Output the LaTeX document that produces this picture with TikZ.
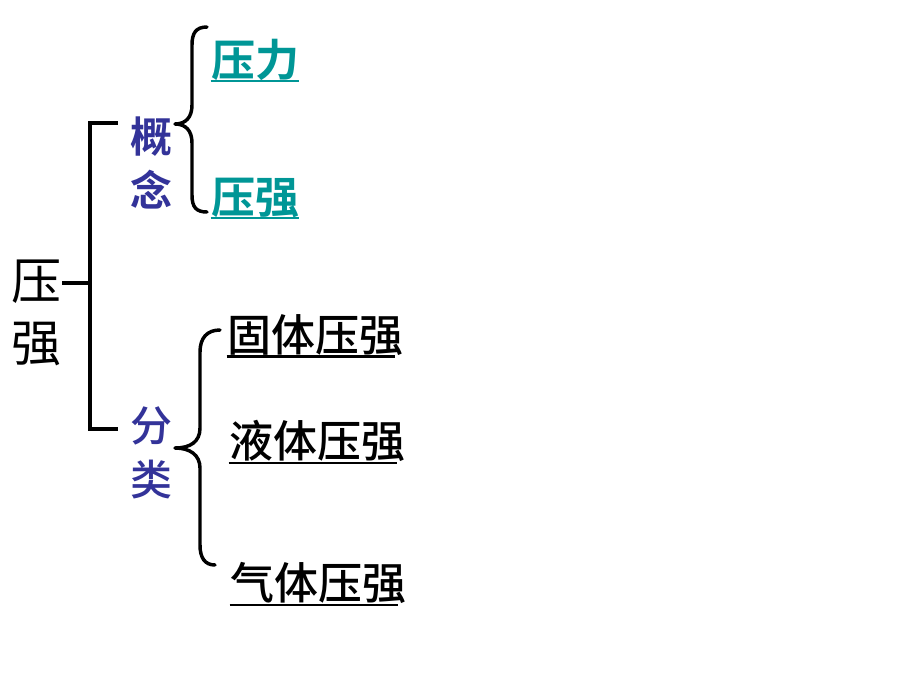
\documentclass[tikz,border=0pt]{standalone}
\usepackage{fontspec}
\newfontfamily\cjk{Noto Sans CJK SC}[BoldFont={Noto Sans CJK SC Bold}]
\newfontfamily\cjkmed{Noto Sans CJK SC Medium}
\usetikzlibrary{calc}
\definecolor{groupblue}{RGB}{51,51,153}
\definecolor{termteal}{RGB}{0,150,150}
\tikzset{every node/.style={inner sep=0pt, font=\cjk},
  brace/.style={line width=2.6pt, line cap=round, line join=round},
  ul/.style={line width=2pt},
  term/.style={font=\cjk\bfseries\fontsize{33}{33}\selectfont, text=termteal},
  kind/.style={font=\cjkmed\fontsize{33}{33}\selectfont}}

\begin{document}
\begin{tikzpicture}[x=0.75pt, y=-0.75pt]
    \useasboundingbox (0,0) rectangle (920,690);
    \node[align=center, font=\cjk\fontsize{37.5}{46.5}\selectfont] at (37, 313) (root) {压\\强};
    \node[align=center, text=groupblue, font=\cjk\bfseries\fontsize{31.5}{40}\selectfont] at (151, 163) (gainian) {概\\念};
    \node[align=center, text=groupblue, font=\cjkmed\fontsize{31.5}{41}\selectfont] at (151, 453) (fenlei) {分\\类};

    \node[term] at (255, 60) (yali) {压力};
    \node[term] at (255, 198) (yaqiang) {压强};
    \node[kind] at (315, 335) (guti) {固体压强};
    \node[kind] at (317, 441) (yeti) {液体压强};
    \node[kind] at (318, 583) (qiti) {气体压强};

    % tree
    \coordinate (fork) at (90, 283);
    \draw[line width=2.4pt] (root.east |- fork) -- (fork);
    \draw[line width=2.6pt] ($(gainian.west |- 0,123)+(-12,0)$) -- (90,123) -- (90,429) -- ($(fenlei.west |- 0,429)+(-12,0)$);

    % braces
    \draw[brace] (207,27) .. controls (196,27) and (192,33) .. (192,45) -- (192,105)
        .. controls (192,117) and (186,124) .. (175,124) .. controls (186,124) and (192,131) .. (192,143)
        -- (192,195) .. controls (192,207) and (196,212) .. (207,212);
    \draw[brace] (220,330) .. controls (207,330) and (200,338) .. (200,352) -- (200,428)
        .. controls (200,442) and (190,448) .. (175,448) .. controls (190,448) and (200,455) .. (200,468)
        -- (200,545) .. controls (200,558) and (205,565) .. (215,565);

    % underlines
    \draw[ul, termteal] (yali.south west) -- (yali.south east);
    \draw[ul, termteal] (yaqiang.south west) -- (yaqiang.south east);
    \foreach \n in {guti, yeti, qiti}
        \draw[ul] ($(\n.south west)+(0,1)$) -- ($(\n.south east)+(-8,1)$);
\end{tikzpicture}
\end{document}
